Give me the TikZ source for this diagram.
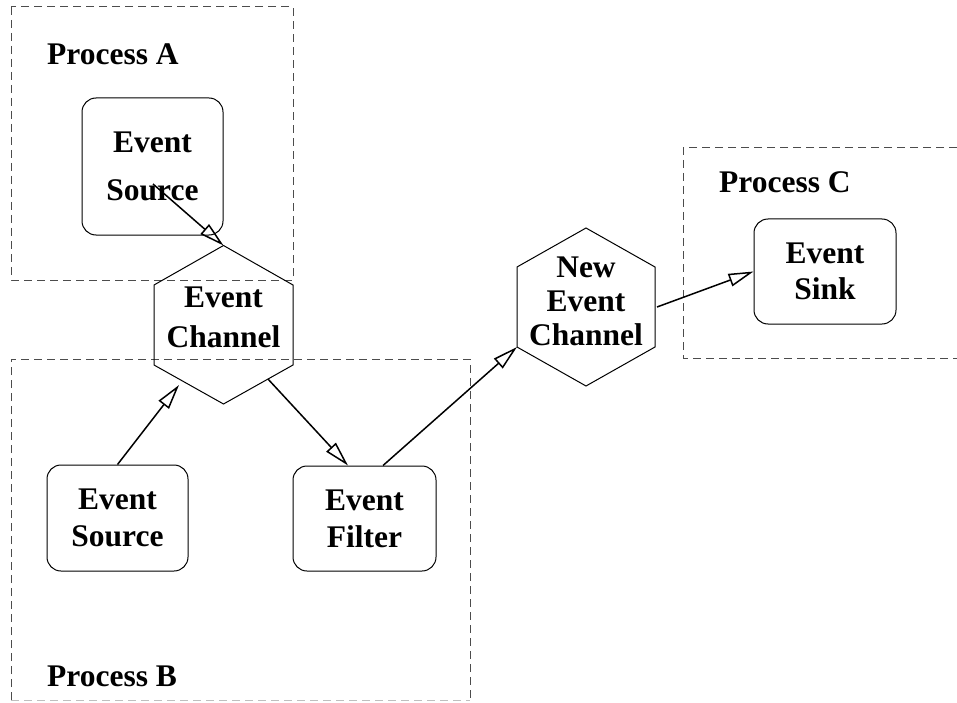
\documentclass[tikz,border=0pt]{standalone}
\usepackage{fontspec}
\setmainfont{Liberation Serif}
\usetikzlibrary{arrows.meta,calc}
\begin{document}
\begin{tikzpicture}[x=1pt,y=-1pt,
  lbl/.style={font=\bfseries\fontsize{31.5}{37}\selectfont, inner sep=0pt},
  box/.style={draw, line width=1pt, rounded corners=14pt, align=center, inner sep=0pt, lbl},
  proc/.style={draw=black!70, line width=1pt, dash pattern=on 8pt off 5pt},
  conn/.style={line width=1.5pt, -{Triangle[open, length=25pt, width=13pt]}},
  hex/.style={draw, line width=1pt},
]
\useasboundingbox (0,0) rectangle (957,703);

% process boxes
\draw[proc] (11,7) rectangle (293,280);
\draw[proc] (11,700) -- (11,359) -- (470,359) -- (470,700);
\draw[proc, draw=black!25] (11,700) -- (470,700);
\draw[proc] (957,148) -- (683,148) -- (683,358) -- (957,358);

\node[lbl, anchor=base west] (pa) at (47,65) {Process A};
\node[lbl, anchor=base west] (pb) at (47,686) {Process B};
\node[lbl, anchor=base west] (pc) at (719,193) {Process C};

% rounded boxes
\node[box, minimum width=141pt, minimum height=137pt] (srcA) at (152.5,166.5) {Event\\[11pt]Source};
\node[box, minimum width=141pt, minimum height=106pt] (srcB) at (117.5,518) {Event\\Source};
\node[box, minimum width=143pt, minimum height=105pt] (filter) at (364.5,518.5) {Event\\Filter};
\node[box, minimum width=142pt, minimum height=105pt] (sink) at (825,271.5) {Event\\[-1pt]Sink};

% hexagon: Event Channel
\coordinate (ch-t) at (223.5,245.5);
\coordinate (ch-ur) at (293,285);
\coordinate (ch-lr) at (293,365);
\coordinate (ch-b) at (223.5,404);
\coordinate (ch-ll) at (154,365);
\coordinate (ch-ul) at (154,285);
\draw[hex] (ch-t) -- (ch-ur) -- (ch-lr) -- (ch-b) -- (ch-ll) -- (ch-ul) -- cycle;
\node[lbl, align=center] (chtext) at (223.5,317.5) {Event\\[3pt]Channel};

% hexagon: New Event Channel
\coordinate (nch-t) at (586,228);
\coordinate (nch-ur) at (655,267);
\coordinate (nch-lr) at (655,347);
\coordinate (nch-b) at (586,386);
\coordinate (nch-ll) at (517,347);
\coordinate (nch-ul) at (517,267);
\draw[hex] (nch-t) -- (nch-ur) -- (nch-lr) -- (nch-b) -- (nch-ll) -- (nch-ul) -- cycle;
\node[lbl, align=center] (nchtext) at (586,301.5) {New\\[-3pt]Event\\[-3pt]Channel};

% connectors
\coordinate (a1) at ($(srcA.center)+(0.5,17.5)$);
\coordinate (b-in) at ($(ch-ll)!0.36!(ch-b)+(0,6)$);
\coordinate (c-out) at ($(ch-lr)!0.36!(ch-b)$);
\coordinate (f-in) at ($(filter.north)+(-16.5,0)$);
\coordinate (f-out) at ($(filter.north)+(18.5,0)$);
\coordinate (n-out) at ($(nch-ur)!0.5!(nch-lr)+(2,0)$);

\draw[conn] (a1) -- (ch-t);
\draw[conn] (srcB.north) -- (b-in);
\draw[conn] (c-out) -- (f-in);
\draw[conn] (f-out) -- (nch-ll);
\draw[conn] (n-out) -- (sink.west);
\end{tikzpicture}
\end{document}
